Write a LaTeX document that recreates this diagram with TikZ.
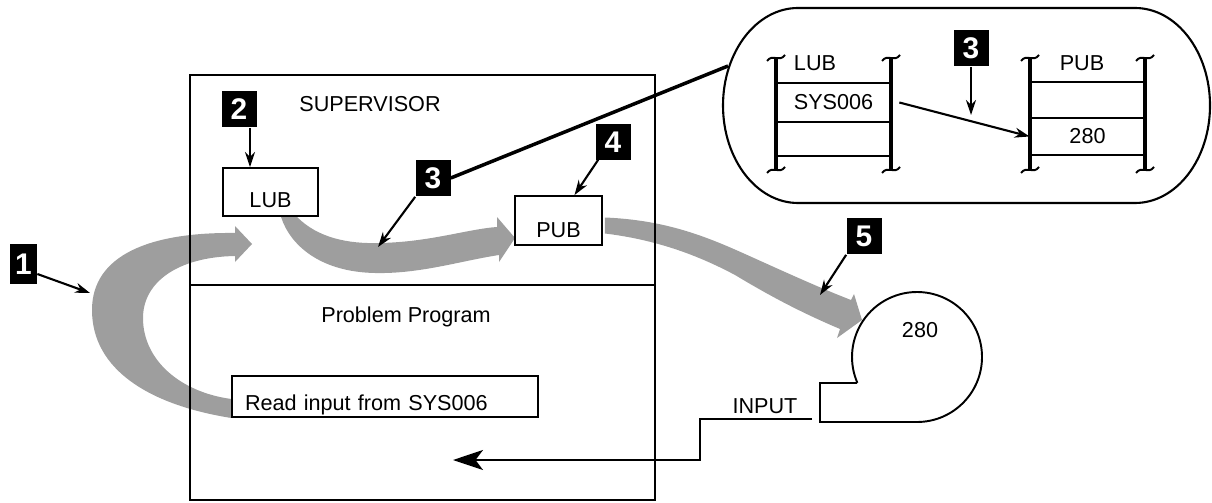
\documentclass[tikz,border=0pt]{standalone}
\usepackage{fontspec}
\setmainfont{Liberation Sans}
\usetikzlibrary{arrows.meta,calc,backgrounds}

\begin{document}
\begin{tikzpicture}[x=0.02cm,y=-0.02cm,
frame/.style={draw=black,line width=1.1pt},
box/.style={frame,fill=white,inner sep=0pt,font=\fontsize{12.3}{14}\selectfont,text depth=0pt},
num/.style={fill=black,text=white,inner sep=0pt,minimum width=0.7cm,minimum height=0.74cm,font=\fontsize{17}{17}\selectfont\bfseries},
ptr/.style={line width=1.2pt,-{Stealth[length=3mm,width=2mm]}},
flow/.style={fill=black!38,draw=none},
bar/.style={line width=2.3pt},
brk/.style={line width=1.1pt},
txt/.style={font=\fontsize{12.3}{14}\selectfont,inner sep=0pt}
]
\useasboundingbox (0,0) rectangle (1212,503);

% main storage frame
\draw[frame] (190,75) rectangle (655,500);
\draw[frame] (190,285) -- (655,285);
\node[txt] (sup) at (370,104) {SUPERVISOR};
\node[txt] (prob) at (406,317) {Problem Program};

\node[box,minimum width=1.9cm,minimum height=0.96cm,text height=18pt] (lub) at (270.5,192) {LUB};
\node[box,minimum width=1.74cm,minimum height=0.98cm,text height=19.6pt] (pub) at (558.5,220.5) {PUB};
\node[box,minimum height=0.82cm,text width=5.6cm,inner xsep=0.26cm,align=left,text height=16.2pt] (read) at (385,396.5) {Read input from SYS006};

% device 280
\draw[frame] (857,383) -- (820,383) -- (820,422) -- (917,422)
  arc[start angle=90,end angle=-203.4,radius=65];
\node[txt] (dev) at (920,330) {280};
\node[txt] (input) at (765,406) {INPUT};
\coordinate (instart) at (812,419);
\coordinate (inend) at (453,460);
\draw[frame,-{Stealth[length=6mm,width=4mm,inset=1.5mm]}] (instart) -- (700,419) |- (inend);

% numbered callouts
\node[num,minimum width=0.54cm,minimum height=0.8cm] (n1) at (23.5,264) {1};
\node[num] (n2) at (239,109) {2};
\node[num] (n3) at (433,178) {3};
\node[num] (n4) at (613,142) {4};
\node[num] (n5) at (864,236) {5};

\coordinate (f1) at (90,293);
\coordinate (f3) at (378,247);
\coordinate (f5) at (820,295);
\coordinate (p2) at ($(n2.south)+(11,0)$);
\draw[ptr] ($(n1.east)+(0,10)$) -- (f1);
\draw[ptr] (p2) -- (p2 |- lub.north);
\draw[ptr] (n3.south west) -- (f3);
\draw[ptr] ($(n4.south west)+(3,-1)$) -- ($(pub.north)+(16,0)$);
\draw[ptr] (n5.south west) -- (f5);

% enlarged view of LUB and PUB tables
\coordinate (callout) at (728,66);
\draw[line width=2pt] (n3.east) -- (callout);
\draw[line width=1.2pt] (798,8) -- (1135,8)
  arc[start angle=-90,end angle=90,x radius=75,y radius=97.5] -- (798,203)
  arc[start angle=90,end angle=270,x radius=75,y radius=97.5] -- cycle;

\foreach \y in {83,122,156} \draw[frame] (776,\y) -- (891,\y);
\foreach \y in {82,118,155} \draw[frame] (1030,\y) -- (1145,\y);
\foreach \x in {776,891,1030,1145} {
  \draw[bar] (\x,58) -- (\x,170);
  \foreach \y in {58,170}
    \draw[brk] (\x-9,\y+3) .. controls (\x-3,\y-5) and (\x+3,\y+5) .. (\x+9,\y-3);
}
\node[txt] (lubhd) at (815,63) {LUB};
\node[txt] (pubhd) at (1082,63) {PUB};
\node[txt,minimum width=2.3cm,minimum height=0.78cm] (lubcell) at (833.5,102.5) {SYS006};
\node[txt,minimum width=2.3cm,minimum height=0.74cm] (pubcell) at (1087.5,136.5) {280};
\draw[ptr] ($(lubcell.east)+(8,0)$) -- (pubcell.west);
\node[num] (n3b) at (971,48) {3};
\coordinate (b3) at (971,115);
\draw[ptr] (n3b) -- (b3);

% gray flow arrows
\begin{scope}[on background layer]
\fill[flow] (read.south west) .. controls (150,405) and (92,370) .. (92,310)
  .. controls (92,255) and (150,232) .. (235,233) -- (235,226) -- (252,244)
  -- (235,262) -- (235,256) .. controls (178,257) and (143,282) .. (143,318)
  .. controls (143,360) and (180,392) .. ($(read.south west)+(0,-19)$) -- cycle;
\fill[flow] ($(lub.south west)+(75,0)$) .. controls (318,238) and (348,244) .. (380,243)
  .. controls (430,242) and (468,229) .. (497,227) -- (497,217)
  -- ($(pub.west)+(1,17.5)$) -- (499,262) -- (499,255)
  .. controls (460,261) and (420,274) .. (375,273)
  .. controls (320,272) and (290,245) .. ($(lub.south west)+(59,0)$) -- cycle;
\fill[flow] ($(pub.east)+(2,-3)$) .. controls (665,220) and (705,236) .. (745,254)
  .. controls (785,272) and (820,288) .. (851,300) -- (854,294) -- (862,320)
  -- (837,338) -- (840,329) .. controls (800,312) and (770,296) .. (735,275)
  .. controls (692,252) and (650,239) .. ($(pub.east)+(2,13)$) -- cycle;
\end{scope}
\end{tikzpicture}
\end{document}
